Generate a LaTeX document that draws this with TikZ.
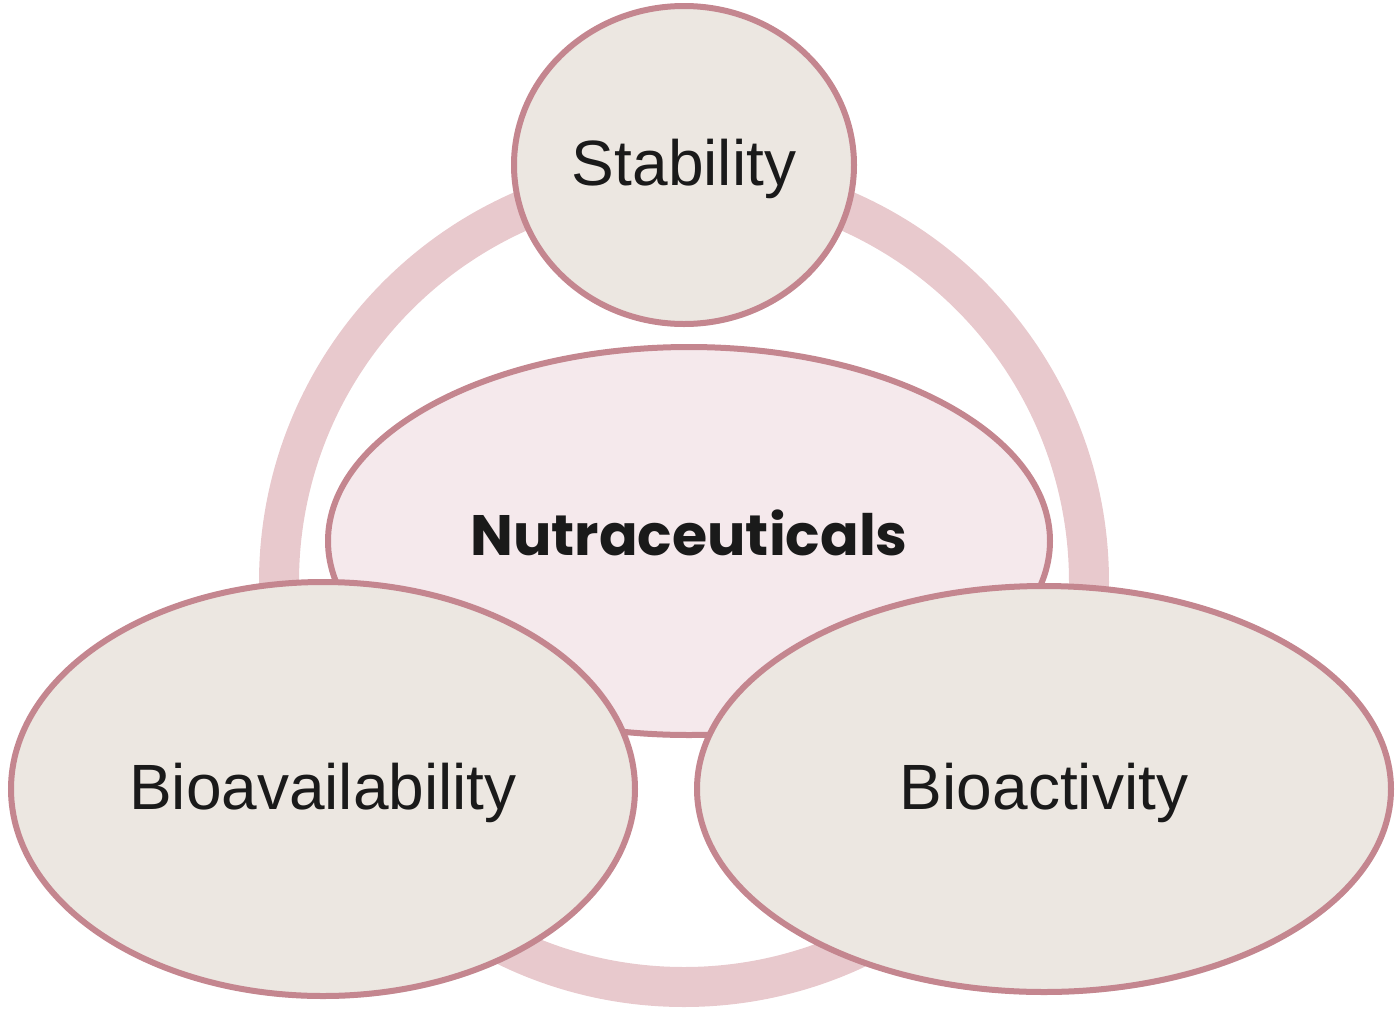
\documentclass[tikz,border=0pt]{standalone}
\usepackage{fontspec}
\setmainfont{Liberation Sans}
\newfontfamily\geofont{Poppins}
\usetikzlibrary{shapes.geometric,shadows}

\definecolor{rimrose}{HTML}{C4868F}
\definecolor{ringrose}{HTML}{E8C9CD}
\definecolor{sandfill}{HTML}{ECE7E1}
\definecolor{blushfill}{HTML}{F5E9EC}
\definecolor{inkdark}{HTML}{1A1A1A}

\begin{document}
\begin{tikzpicture}[x=0.5pt, y=-0.5pt,
    bubble/.style={ellipse, draw=rimrose, line width=3pt, fill=sandfill, inner sep=0pt,
      text=inkdark, font=\fontsize{32}{36}\selectfont, text height=24pt, text depth=4pt,
      drop shadow={shadow xshift=0.6pt, shadow yshift=-1.4pt, opacity=0.2}}]
    \useasboundingbox (0,0) rectangle (1399,1013);
    \node[circle, draw=ringrose, line width=20pt, minimum size=405pt] (ring) at (684,582) {};
    \node[bubble, minimum width=170pt, minimum height=159pt] (stab) at (684,165) {Stability};
    \node[bubble, fill=blushfill, minimum width=361pt, minimum height=194pt,
      font=\geofont\bfseries\fontsize{28.5}{34}\selectfont, text height=20pt, text depth=6pt]
      (nutra) at (689,541) {Nutraceuticals};
    \node[bubble, minimum width=312pt, minimum height=207pt] (bioav) at (323,789) {Bioavailability};
    \node[bubble, minimum width=347pt, minimum height=203pt] (bioac) at (1044,789) {Bioactivity};
\end{tikzpicture}
\end{document}
